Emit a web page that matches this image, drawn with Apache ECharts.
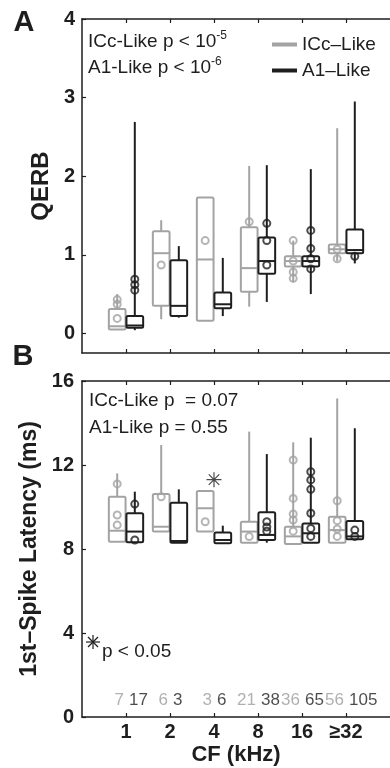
<!DOCTYPE html>
<html><head><meta charset="utf-8">
<script src="https://cdn.jsdelivr.net/npm/echarts@6/dist/echarts.min.js"></script>
<style>html,body{margin:0;padding:0;background:#fff}#c{width:390px;height:768px}</style>
</head><body><div id="c"></div>
<script>
// ---------- data ----------
const categories = ['1', '2', '4', '8', '16', '≥32'];
const seriesNames = ['ICc–Like', 'A1–Like'];
// boxes: [min, q1, median, q3, max]
const qerbIccBoxes = [
  [0.05, 0.05, 0.09, 0.31, 0.50],
  [0.18, 0.35, 1.02, 1.30, 1.44],
  [0.16, 0.16, 0.94, 1.73, 1.73],
  [0.34, 0.53, 0.83, 1.35, 2.13],
  [0.65, 0.85, 0.92, 0.98, 1.18],
  [0.92, 1.02, 1.07, 1.13, 2.61]
];
const qerbA1Boxes = [
  [0.04, 0.07, 0.10, 0.22, 2.69],
  [0.20, 0.22, 0.35, 0.93, 1.11],
  [0.22, 0.32, 0.37, 0.52, 0.96],
  [0.40, 0.76, 0.92, 1.22, 2.14],
  [0.50, 0.85, 0.92, 0.98, 2.09],
  [0.89, 1.02, 1.06, 1.32, 2.95]
];
const qerbIccCircles = [[0.43, 0.37, 0.19], [0.87], [1.18], [1.42], [1.18, 0.92, 0.78, 0.70], [1.07, 0.95]];
const qerbA1Circles = [[0.69, 0.62, 0.55], [], [], [1.40, 1.18, 0.87], [1.31, 1.08, 0.95, 0.82], [0.98]];

const latIccBoxes = [
  [8.35, 8.35, 8.87, 10.49, 11.60],
  [8.83, 8.83, 9.06, 10.62, 12.95],
  [8.83, 8.83, 9.94, 10.76, 10.76],
  [8.30, 8.30, 8.83, 9.30, 13.59],
  [8.24, 8.24, 8.60, 9.06, 13.08],
  [8.30, 8.30, 8.90, 9.54, 15.17]
];
const latA1Boxes = [
  [8.32, 8.32, 8.83, 9.70, 10.73],
  [8.30, 8.30, 8.38, 10.20, 10.84],
  [8.27, 8.27, 8.43, 8.78, 9.11],
  [8.30, 8.43, 8.67, 9.75, 12.52],
  [8.30, 8.30, 8.75, 9.22, 13.30],
  [8.46, 8.46, 8.60, 9.33, 13.75]
];
const latIccCircles = [[11.1, 9.62, 9.14], [10.49], [9.3], [8.59], [12.24, 10.41, 9.67, 9.38, 8.85], [10.3, 9.35, 8.95, 8.6]];
const latA1Circles = [[10.14, 8.43], [], [], [9.3, 9.05, 8.85], [11.68, 11.29, 10.84, 9.7, 8.98, 8.6], [8.9, 8.6]];
const iccCounts = [7, 6, 3, 21, 36, 56];
const a1Counts = [17, 3, 6, 38, 65, 105];
const significantLatency = [[2, 11.3]]; // [category index, value] marked with *
const qerbTicks = [0, 1, 2, 3, 4];
const countRowValue = 0.8;

// ---------- style ----------
const GRAY = '#a3a3a3', BLACK = '#1e1e1e', COUNT_GRAY = '#9c9c9c';
const FONT = '"Liberation Sans", Arial, Helvetica, sans-serif';
const OFFSET = 0.2, BOX_W = 0.38;
const catPos = categories.map((c, i) => i + 1);

function boxRender(color) {
  return function (params, api) {
    const x = api.value(0);
    const lo = api.coord([x, api.value(1)]);
    const q1 = api.coord([x, api.value(2)]);
    const md = api.coord([x, api.value(3)]);
    const q3 = api.coord([x, api.value(4)]);
    const hi = api.coord([x, api.value(5)]);
    const w = api.size([BOX_W, 0])[0];
    const st = { stroke: color, lineWidth: 2, fill: 'none' };
    return { type: 'group', children: [
      { type: 'line', shape: { x1: hi[0], y1: hi[1], x2: q3[0], y2: q3[1] }, style: st },
      { type: 'line', shape: { x1: q1[0], y1: q1[1], x2: lo[0], y2: lo[1] }, style: st },
      { type: 'rect', shape: { x: q3[0] - w / 2, y: q3[1], width: w, height: Math.max(q1[1] - q3[1], 0.5), r: 1.5 }, style: st },
      { type: 'line', shape: { x1: md[0] - w / 2, y1: md[1], x2: md[0] + w / 2, y2: md[1] }, style: st }
    ]};
  };
}
function boxSeries(name, boxes, off, color, axisIdx) {
  return {
    name: name, type: 'custom', xAxisIndex: axisIdx, yAxisIndex: axisIdx / 2, silent: true,
    itemStyle: { color: color },
    renderItem: boxRender(color),
    encode: { x: 0, y: [1, 2, 3, 4, 5] },
    data: boxes.map((b, i) => [catPos[i] + off].concat(b)),
    z: 2
  };
}
function circleSeries(name, circles, off, color, axisIdx) {
  const d = [];
  circles.forEach((arr, i) => arr.forEach(v => d.push([catPos[i] + off, v])));
  return {
    name: name, type: 'scatter', xAxisIndex: axisIdx, yAxisIndex: axisIdx / 2, silent: true,
    symbol: 'circle', symbolSize: 7,
    itemStyle: { color: 'rgba(0,0,0,0)', borderColor: color, borderWidth: 2 },
    data: d, z: 3
  };
}
function countSeries(counts, side, color) {
  return {
    type: 'scatter', xAxisIndex: 2, yAxisIndex: 1, silent: true, symbolSize: 0,
    data: counts.map((c, i) => [catPos[i], countRowValue, c]),
    label: { show: true, position: side, distance: side === 'left' ? 2 : 3,
      formatter: p => String(p.data[2]),
      color: color, fontSize: 17, fontFamily: FONT },
    z: 4
  };
}

const axisLineStyle = { lineStyle: { color: BLACK, width: 1.5 } };
function xAxes(gridIndex, showLabels) {
  const common = {
    type: 'value', gridIndex: gridIndex, min: 0, max: 7,
    axisLine: Object.assign({ onZero: false }, axisLineStyle),
    axisTick: { inside: true, length: 4, customValues: catPos, lineStyle: { color: BLACK, width: 1.2 } },
    splitLine: { show: false }
  };
  return [
    Object.assign({}, common, {
      position: 'bottom',
      axisLabel: showLabels ? { show: true, customValues: catPos, formatter: v => categories[v - 1] || '',
        fontSize: 20, fontWeight: 'bold', color: BLACK, fontFamily: FONT, margin: 5 } : { show: false },
      name: showLabels ? 'CF (kHz)' : '', nameLocation: 'middle', nameGap: 27,
      nameTextStyle: { fontSize: 22, fontWeight: 'bold', color: BLACK, fontFamily: FONT }
    }),
    Object.assign({}, common, { position: 'top', axisLabel: { show: false } })
  ];
}

const chart = echarts.init(document.getElementById('c'), null, { renderer: 'canvas' });
const richStat = {
  m: { fontSize: 19, fontFamily: FONT, lineHeight: 21, verticalAlign: 'bottom' },
  s: { fontSize: 12, fontFamily: FONT, verticalAlign: 'top', lineHeight: 12 }
};
const option = {
  animation: false,
  backgroundColor: '#fff',
  grid: [
    { left: 82, top: 19, width: 312, height: 334 },
    { left: 82, top: 381, width: 312, height: 336 }
  ],
  xAxis: xAxes(0, false).concat(xAxes(1, true)),
  yAxis: [
    {
      type: 'value', gridIndex: 0, min: -0.25, max: 4,
      axisLine: Object.assign({ onZero: false }, axisLineStyle),
      axisTick: { inside: true, length: 4, customValues: qerbTicks, lineStyle: { color: BLACK, width: 1.2 } },
      axisLabel: { customValues: qerbTicks, fontSize: 20, fontWeight: 'bold', color: BLACK, fontFamily: FONT, margin: 7 },
      splitLine: { show: false },
      name: 'QERB', nameLocation: 'middle', nameGap: 26, nameRotate: 90,
      nameTextStyle: { fontSize: 24, fontWeight: 'bold', color: BLACK, fontFamily: FONT }
    },
    {
      type: 'value', gridIndex: 1, min: 0, max: 16, interval: 4,
      axisLine: Object.assign({ onZero: false }, axisLineStyle),
      axisTick: { inside: true, length: 4, lineStyle: { color: BLACK, width: 1.2 } },
      axisLabel: { fontSize: 20, fontWeight: 'bold', color: BLACK, fontFamily: FONT, margin: 8 },
      splitLine: { show: false },
      name: '1st–Spike Latency (ms)', nameLocation: 'middle', nameGap: 37, nameRotate: 90,
      nameTextStyle: { fontSize: 23, fontWeight: 'bold', color: BLACK, fontFamily: FONT }
    }
  ],
  legend: {
    orient: 'vertical', left: 267, top: 30, itemWidth: 25, itemHeight: 4, itemGap: 7,
    icon: 'rect', selectedMode: false,
    textStyle: { fontSize: 19, color: BLACK, fontFamily: FONT },
    data: [
      { name: seriesNames[0], itemStyle: { color: GRAY } },
      { name: seriesNames[1], itemStyle: { color: BLACK } }
    ]
  },
  series: [
    boxSeries(seriesNames[0], qerbIccBoxes, -OFFSET, GRAY, 0),
    boxSeries(seriesNames[1], qerbA1Boxes, OFFSET, BLACK, 0),
    circleSeries(seriesNames[0], qerbIccCircles, -OFFSET, GRAY, 0),
    circleSeries(seriesNames[1], qerbA1Circles, OFFSET, BLACK, 0),
    boxSeries(seriesNames[0], latIccBoxes, -OFFSET, GRAY, 2),
    boxSeries(seriesNames[1], latA1Boxes, OFFSET, BLACK, 2),
    circleSeries(seriesNames[0], latIccCircles, -OFFSET, GRAY, 2),
    circleSeries(seriesNames[1], latA1Circles, OFFSET, BLACK, 2),
    countSeries(iccCounts, 'left', COUNT_GRAY),
    countSeries(a1Counts, 'right', BLACK),
    {
      type: 'scatter', xAxisIndex: 2, yAxisIndex: 1, silent: true,
      symbol: 'path://M0,10L20,10M10,0L10,20M3,3L17,17M3,17L17,3', symbolSize: 15,
      itemStyle: { color: 'rgba(0,0,0,0)', borderColor: BLACK, borderWidth: 1.2 },
      data: significantLatency.map(s => [catPos[s[0]], s[1]])
    }
  ],
  graphic: [
    { type: 'text', x: 24, y: 23, style: { text: 'A', font: 'bold 29px ' + FONT, fill: BLACK, align: 'center', verticalAlign: 'middle' } },
    { type: 'text', x: 23, y: 357, style: { text: 'B', font: 'bold 29px ' + FONT, fill: BLACK, align: 'center', verticalAlign: 'middle' } },
    { type: 'text', x: 88, y: 30, style: { text: '{m|ICc-Like p < 10}{s|-5}', fill: BLACK, align: 'left', verticalAlign: 'top', rich: richStat } },
    { type: 'text', x: 88, y: 56, style: { text: '{m|A1-Like p < 10}{s|-6}', fill: BLACK, align: 'left', verticalAlign: 'top', rich: richStat } },
    { type: 'text', x: 89, y: 401, style: { text: 'ICc-Like p  = 0.07', font: '19px ' + FONT, fill: BLACK, align: 'left', verticalAlign: 'middle' } },
    { type: 'text', x: 89, y: 428, style: { text: 'A1-Like p = 0.55', font: '19px ' + FONT, fill: BLACK, align: 'left', verticalAlign: 'middle' } },
    { type: 'group', x: 93, y: 642, children: [
      { type: 'line', shape: { x1: -7, y1: 0, x2: 7, y2: 0 }, style: { stroke: BLACK, lineWidth: 1.2 } },
      { type: 'line', shape: { x1: 0, y1: -7, x2: 0, y2: 7 }, style: { stroke: BLACK, lineWidth: 1.2 } },
      { type: 'line', shape: { x1: -5, y1: -5, x2: 5, y2: 5 }, style: { stroke: BLACK, lineWidth: 1.2 } },
      { type: 'line', shape: { x1: -5, y1: 5, x2: 5, y2: -5 }, style: { stroke: BLACK, lineWidth: 1.2 } }
    ] },
    { type: 'text', x: 102, y: 652, style: { text: 'p < 0.05', font: '19px ' + FONT, fill: BLACK, align: 'left', verticalAlign: 'middle' } }
  ]
};
chart.setOption(option);
</script>
</body></html>
